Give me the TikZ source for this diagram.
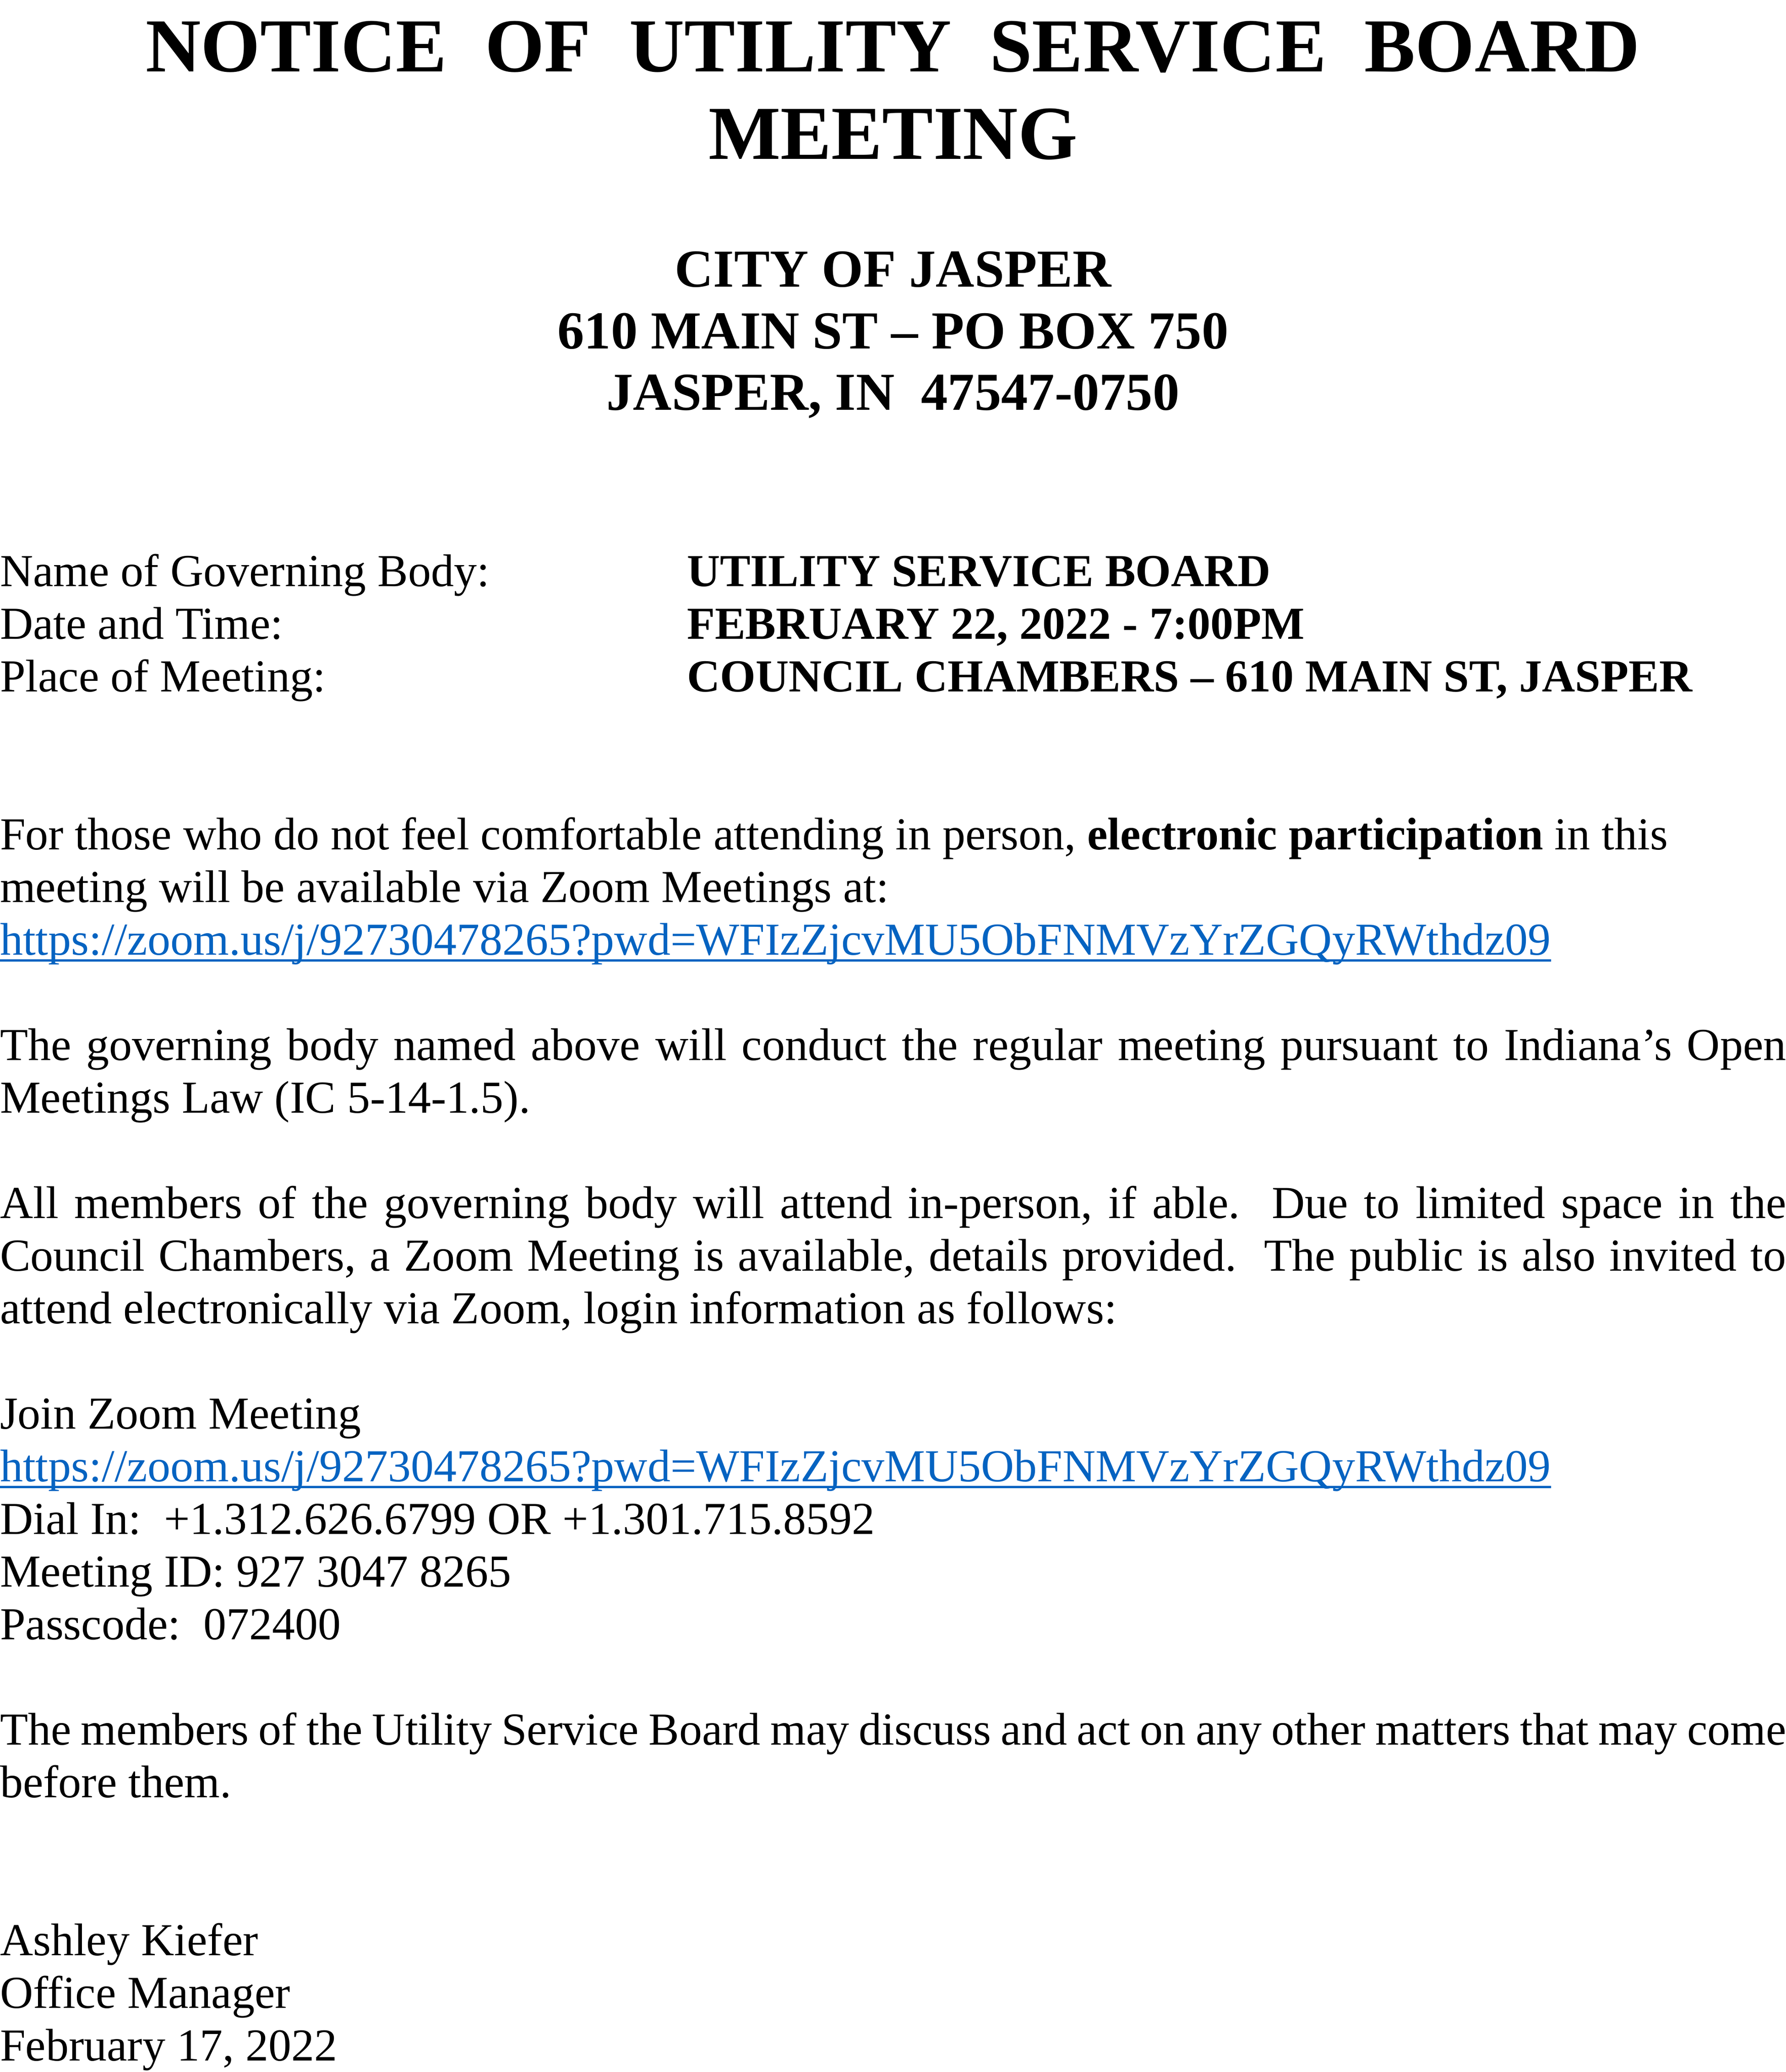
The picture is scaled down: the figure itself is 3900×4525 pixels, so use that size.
\documentclass[tikz,border=0pt]{standalone}
\usepackage{fontspec}
\setmainfont{Liberation Serif}
\frenchspacing
\definecolor{linkblue}{HTML}{0563C1}
\newcommand\ulink[1]{\setbox0=\hbox{#1}\rlap{\rule[-1.8pt]{\wd0}{0.6pt}}\box0}
\newcommand\jline[1]{\hbox to 468pt{#1}}
\tikzset{
  body/.style={anchor=base west, inner sep=0pt, outer sep=0pt, font=\fontsize{12}{13.8}\selectfont},
  bodyb/.style={body, font=\fontsize{12}{13.8}\selectfont\bfseries},
  linktxt/.style={body, text=linkblue},
  titletxt/.style={anchor=base, inner sep=0pt, outer sep=0pt, font=\fontsize{20}{23}\selectfont\bfseries},
  headtxt/.style={anchor=base, inner sep=0pt, outer sep=0pt, font=\fontsize{14}{16.1}\selectfont\bfseries}
}
\begin{document}
\begin{tikzpicture}[x=0.12pt,y=-0.12pt]
\useasboundingbox (0,0) rectangle (3900,4525);
% title
\node[titletxt] (t1) at (1950,156) {NOTICE \ OF \ UTILITY \ SERVICE \ BOARD};
\node[titletxt] (t2) at (1950,347) {MEETING};
% address
\node[headtxt] (h1) at (1950,626) {CITY OF JASPER};
\node[headtxt] (h2) at (1950,761) {610 MAIN ST – PO BOX 750};
\node[headtxt] (h3) at (1950,895) {JASPER, IN \ 47547-0750};
% details
\node[body] (k1) at (0,1280) {Name of Governing Body:};
\node[bodyb] (v1) at (1500,1280) {UTILITY SERVICE BOARD};
\node[body] (k2) at (0,1395) {Date and Time:};
\node[bodyb] (v2) at (1500,1395) {FEBRUARY 22, 2022 - 7:00PM};
\node[body] (k3) at (0,1510) {Place of Meeting:};
\node[bodyb] (v3) at (1500,1510) {COUNCIL CHAMBERS – 610 MAIN ST, JASPER};
% paragraph 1
\node[body] (p1a) at (0,1855) {For those who do not feel comfortable attending in person, \textbf{electronic participation} in this};
\node[body] (p1b) at (0,1970) {meeting will be available via Zoom Meetings at:};
\node[linktxt] (p1c) at (0,2085) {\ulink{https://zoom.us/j/92730478265?pwd=WFIzZjcvMU5ObFNMVzYrZGQyRWthdz09}};
% paragraph 2
\node[body] (p2a) at (0,2315) {\jline{The governing body named above will conduct the regular meeting pursuant to Indiana’s Open}};
\node[body] (p2b) at (0,2430) {Meetings Law (IC 5-14-1.5).};
% paragraph 3
\node[body] (p3a) at (0,2660) {\jline{All members of the governing body will attend in-person, if able. \ Due to limited space in the}};
\node[body] (p3b) at (0,2775) {\jline{Council Chambers, a Zoom Meeting is available, details provided. \ The public is also invited to}};
\node[body] (p3c) at (0,2890) {attend electronically via Zoom, login information as follows:};
% zoom details
\node[body] (z1) at (0,3120) {Join Zoom Meeting};
\node[linktxt] (z2) at (0,3235) {\ulink{https://zoom.us/j/92730478265?pwd=WFIzZjcvMU5ObFNMVzYrZGQyRWthdz09}};
\node[body] (z3) at (0,3350) {Dial In: \ +1.312.626.6799 OR +1.301.715.8592};
\node[body] (z4) at (0,3465) {Meeting ID: 927 3047 8265};
\node[body] (z5) at (0,3580) {Passcode: \ 072400};
% paragraph 4
\node[body] (p4a) at (0,3810) {\jline{The members of the Utility Service Board may discuss and act on any other matters that may come}};
\node[body] (p4b) at (0,3925) {before them.};
% signature
\node[body] (s1) at (0,4270) {Ashley Kiefer};
\node[body] (s2) at (0,4385) {Office Manager};
\node[body] (s3) at (0,4500) {February 17, 2022};
\end{tikzpicture}
\end{document}
